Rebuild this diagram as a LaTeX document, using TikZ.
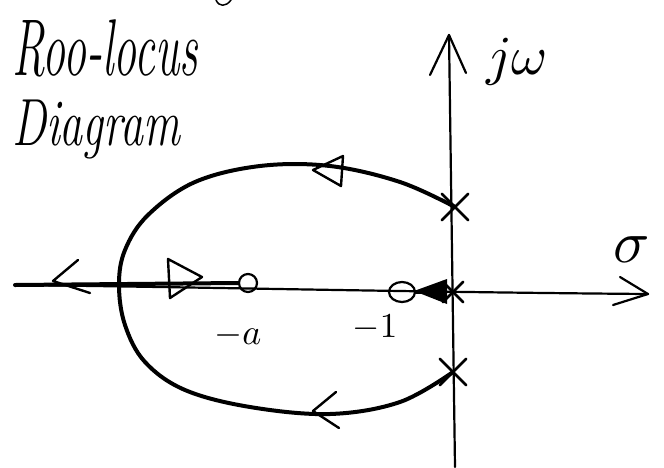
\documentclass[tikz,border=0pt]{standalone}
\usetikzlibrary{shapes.misc,shapes.geometric}
\begin{document}
\begin{tikzpicture}[x=1pt,y=-1pt,line cap=round,line join=round,
  axis/.style={line width=2.2pt},
  locus/.style={line width=4pt},
  tipmark/.style={line width=2.4pt},
  pole/.style={cross out,draw,line width=2.6pt,minimum size=24pt,inner sep=0pt},
  zero/.style={circle,draw,line width=2.2pt,inner sep=0pt},
  hand/.style={font=\fontsize{46}{50}\selectfont\itshape,inner sep=0pt,anchor=west},
  lbl/.style={inner sep=0pt}]
\useasboundingbox (0,0) rectangle (664,467);
% axes
\coordinate (vb) at (455,467);
\coordinate (vt) at (449,35);
\coordinate (hl) at (15,285);
\coordinate (hr) at (648,294);
\coordinate (vb1) at (430,75);
\coordinate (vb2) at (466,73);
\coordinate (hb1) at (620,277);
\coordinate (hb2) at (613,305);
\draw[axis] (vb) -- (vt);
\draw[axis] (vb1) -- (vt) -- (vb2);
\draw[axis] (hl) .. controls (200,287) and (400,292) .. (hr);
\draw[axis] (hb1) -- (hr) -- (hb2);
% poles and zeros
\node[pole] (p1) at (455,207) {};
\node[pole] (p2) at (453,372) {};
\node[pole,minimum size=18pt] (p0) at (453,292) {};
\node[zero,minimum size=18pt] (za) at (248,283) {};
\node[draw,line width=2.2pt,inner sep=0pt,ellipse,minimum width=26pt,minimum height=20pt] (z1) at (402,292) {};
% real-axis locus
\draw[locus] (hl) -- (za.west);
\draw[locus] (p0) -- (z1.east);
% complex locus
\coordinate (brk) at (119,285);
\draw[locus] plot[smooth,tension=0.6] coordinates {(p1) (400,182) (330,166) (260,166) (195,182) (148,215) (125,250) (brk) (125,325) (145,362) (185,390) (250,407) (330,414) (400,402) (p2)};
% direction marks
\coordinate (t1) at (313,170);
\draw[tipmark] (t1) -- (343,156) -- (341,186) -- cycle;
\coordinate (t2) at (202,277);
\draw[tipmark] (168,259) -- (t2) -- (170,298) -- cycle;
\coordinate (t3) at (53,281);
\draw[tipmark] (78,260) -- (t3) -- (90,293);
\coordinate (t4) at (313,411);
\draw[tipmark] (336,392) -- (t4) -- (339,428);
\coordinate (t5) at (414,291);
\fill (t5) -- (447,279) -- (447,304) -- cycle;
% stray stroke at top
\draw[line width=1.5pt] (216,0) .. controls (219,7) and (226,7) .. (231,0);
% texts
\node[hand] (title1) at (12,48) {\scalebox{1}[1.75]{Roo-locus}};
\node[hand] (title2) at (12,130) {\scalebox{1}[1.45]{Diagram}};
\node[lbl] (jw) at (517,62) {\scalebox{5.5}{$j\omega$}};
\node[lbl] (sig) at (632,250) {\scalebox{6}{$\sigma$}};
\node[lbl] (la) at (238,335) {\scalebox{3.6}{$-a$}};
\node[lbl] (l1) at (375,328) {\scalebox{3.5}{$-1$}};
\end{tikzpicture}
\end{document}
